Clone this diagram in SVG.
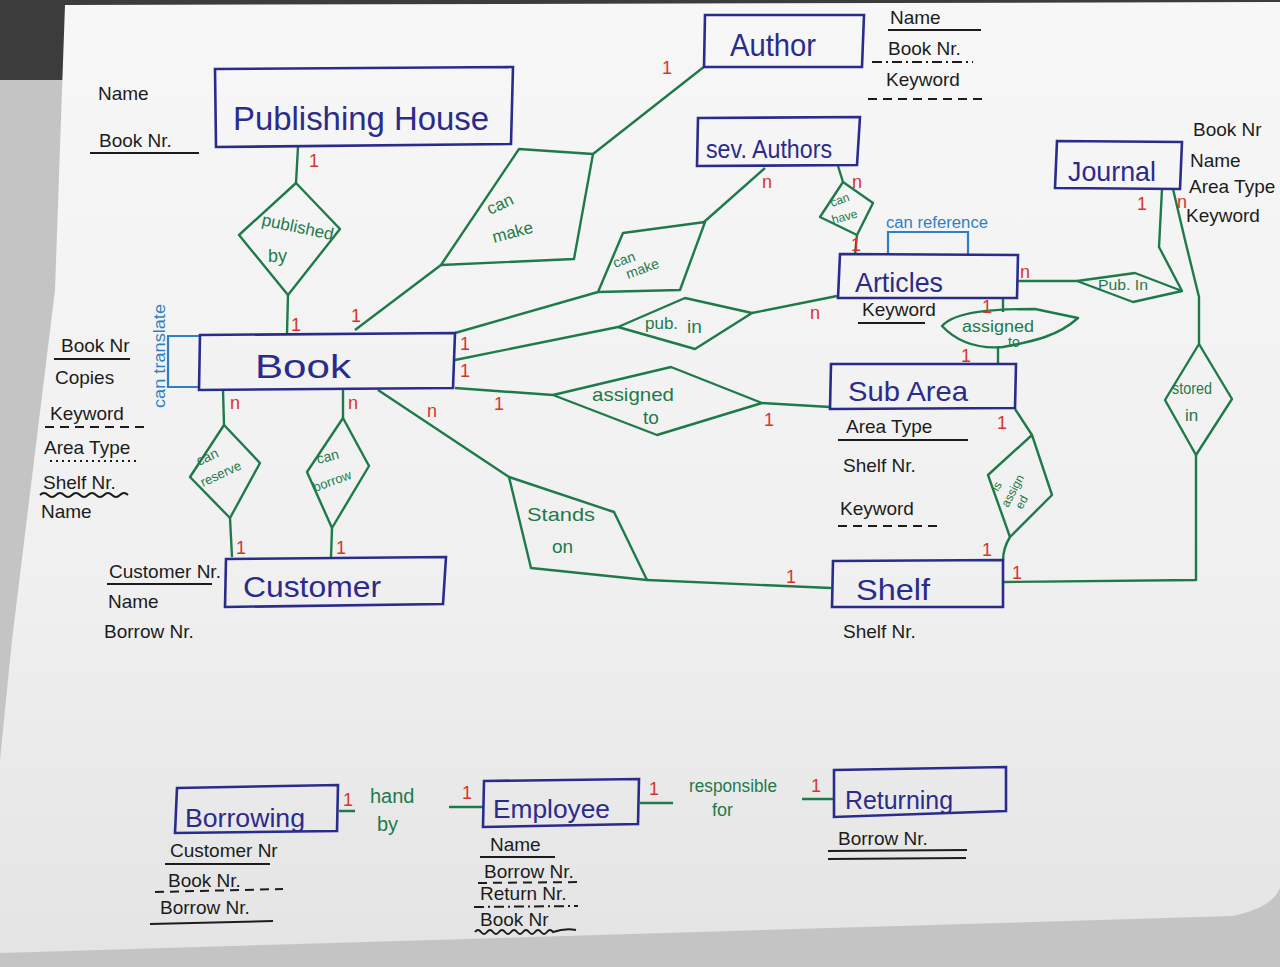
<svg xmlns="http://www.w3.org/2000/svg" width="1280" height="967" viewBox="0 0 1280 967">
<defs>
<linearGradient id="paper" x1="0" y1="0" x2="0" y2="1">
<stop offset="0" stop-color="#f7f7f7"/>
<stop offset="0.6" stop-color="#f0f0f0"/>
<stop offset="1" stop-color="#e4e4e4"/>
</linearGradient>
<style>
.ent{fill:none;stroke:#2b2b8c;stroke-width:2.6}
.et{font-family:"Liberation Sans",sans-serif;fill:#2b2b8c}
.rel{fill:none;stroke:#1f7a4a;stroke-width:2.4;stroke-linejoin:round}
.rt{font-family:"Liberation Sans",sans-serif;fill:#1f7a4a}
.card{font-family:"Liberation Sans",sans-serif;font-size:18px;fill:#d7352b}
.att{font-family:"Liberation Sans",sans-serif;font-size:19px;fill:#1c1c1c}
.ul{stroke:#1c1c1c;stroke-width:2;fill:none}
.dash{stroke:#1c1c1c;stroke-width:2;fill:none;stroke-dasharray:9 6}
.dd{stroke:#1c1c1c;stroke-width:2;fill:none;stroke-dasharray:10 4 2 4}
.dot{stroke:#1c1c1c;stroke-width:2;fill:none;stroke-dasharray:2 4}
.self{fill:none;stroke:#2f7fc4;stroke-width:2.2}
.st{font-family:"Liberation Sans",sans-serif;fill:#2f7fc4}
</style>
</defs>
<rect x="0" y="0" width="1280" height="967" fill="#c4c4c4"/>
<rect x="0" y="0" width="1280" height="8" fill="#3c3c3c"/>
<rect x="0" y="0" width="66" height="80" fill="#3c3c3c"/>
<path d="M65,5 L1280,2 L1280,888 Q1272,908 1232,916 L0,953 L0,760 L12,640 L55,290 Z" fill="url(#paper)"/>

<g id="connectors">
<path class="rel" d="M298,147 L296,183 M288,295 L287,333"/>
<path class="rel" d="M355,330 L441,265 M593,154 L705,66"/>
<path class="rel" d="M765,168 L704,222 M598,292 L455,333"/>
<path class="rel" d="M838,166 L843,182 M857,235 L855,255"/>
<path class="rel" d="M455,360 L618,327 M752,313 L837,296"/>
<path class="rel" d="M455,388 L553,395 M762,403 L830,407"/>
<path class="rel" d="M378,390 L509,477 M647,580 L831,588"/>
<path class="rel" d="M1003,298 L1003,312 M998,347 L998,364"/>
<path class="rel" d="M1017,281 L1077,281 M1182,291 L1159,247 L1162,189"/>
<path class="rel" d="M1173,189 L1185,240 L1199,297 L1199,344 M1196,455 L1196,580 L1003,582"/>
<path class="rel" d="M1015,409 L1032,435 M1010,537 Q1003,548 1003,561"/>
<path class="rel" d="M223,390 L224,425 M230,518 L232,557"/>
<path class="rel" d="M343,390 L343,418 M332,528 L331,557"/>
<path class="rel" d="M339,811 L355,811 M449,807 L483,807 M640,803 L673,803 M802,799 L833,799"/>
</g>

<g id="rel-published-by">
<path class="rel" d="M296,183 L340,229 L288,295 L239,235 Z"/>
<text class="rt" font-size="17" transform="translate(261,225) rotate(12)">published</text>
<text class="rt" font-size="18" x="268" y="262">by</text>
</g>
<g id="rel-can-make-author">
<path class="rel" d="M519,149 L593,154 L574,259 L441,265 Z"/>
<text class="rt" font-size="17" transform="translate(490,215) rotate(-25)">can</text>
<text class="rt" font-size="17" transform="translate(494,243) rotate(-15)">make</text>
</g>
<g id="rel-can-make-sev">
<path class="rel" d="M623,233 L705,222 L680,290 L598,292 Z"/>
<text class="rt" font-size="14" transform="translate(615,268) rotate(-20)">can</text>
<text class="rt" font-size="14" transform="translate(628,279) rotate(-20)">make</text>
</g>
<g id="rel-can-have">
<path class="rel" d="M843,182 L873,203 L857,235 L820,217 Z"/>
<text class="rt" font-size="12" transform="translate(832,207) rotate(-20)">can</text>
<text class="rt" font-size="12" transform="translate(833,224) rotate(-15)">have</text>
</g>
<g id="rel-can-reference">
<path class="self" d="M888,255 L888,232 L968,232 L968,255"/>
<text class="st" font-size="16" x="886" y="228" textLength="102" lengthAdjust="spacingAndGlyphs">can reference</text>
</g>
<g id="rel-pub-in">
<path class="rel" d="M618,327 L685,298 L752,313 L695,349 Z"/>
<text class="rt" font-size="17" x="645" y="329">pub.</text>
<text class="rt" font-size="19" x="687" y="333">in</text>
</g>
<g id="rel-assigned-to">
<path class="rel" d="M553,395 L671,367 L762,403 L657,435 Z"/>
<text class="rt" font-size="19" x="592" y="401" textLength="82" lengthAdjust="spacingAndGlyphs">assigned</text>
<text class="rt" font-size="19" x="643" y="424">to</text>
</g>
<g id="rel-stands-on">
<path class="rel" d="M509,477 L614,512 L647,580 L531,568 Z"/>
<text class="rt" font-size="19" x="527" y="521" textLength="68" lengthAdjust="spacingAndGlyphs">Stands</text>
<text class="rt" font-size="19" x="552" y="553">on</text>
</g>
<g id="rel-assigned-to-2">
<path class="rel" d="M942,326 C955,311 995,309 1035,309 L1078,318 C1058,336 1035,341 1003,347 C978,349 958,343 942,326 Z"/>
<text class="rt" font-size="16" x="962" y="332" textLength="72" lengthAdjust="spacingAndGlyphs">assigned</text>
<text class="rt" font-size="14" x="1008" y="347">to</text>
</g>
<g id="rel-pub-in-2">
<path class="rel" d="M1077,281 L1135,273 L1182,291 L1133,302 Z"/>
<text class="rt" font-size="15" x="1098" y="290" textLength="50" lengthAdjust="spacingAndGlyphs">Pub. In</text>
</g>
<g id="rel-stored-in">
<path class="rel" d="M1199,344 L1232,399 L1196,455 L1165,400 Z"/>
<text class="rt" font-size="16" x="1172" y="394" textLength="40" lengthAdjust="spacingAndGlyphs">stored</text>
<text class="rt" font-size="17" x="1185" y="421">in</text>
</g>
<g id="rel-is-assigned">
<path class="rel" d="M1032,435 L1052,495 L1010,537 L988,475 Z"/>
<text class="rt" font-size="12" transform="translate(998,492) rotate(-60)">is</text>
<text class="rt" font-size="12" transform="translate(1008,508) rotate(-62)">assign</text>
<text class="rt" font-size="12" transform="translate(1022,510) rotate(-62)">ed</text>
</g>
<g id="rel-can-reserve">
<path class="rel" d="M224,425 L260,463 L230,518 L190,477 Z"/>
<text class="rt" font-size="14" transform="translate(199,466) rotate(-25)">can</text>
<text class="rt" font-size="13" transform="translate(203,487) rotate(-25)">reserve</text>
</g>
<g id="rel-can-borrow">
<path class="rel" d="M343,418 L369,466 L332,528 L307,472 Z"/>
<text class="rt" font-size="14" transform="translate(318,464) rotate(-15)">can</text>
<text class="rt" font-size="13" transform="translate(315,492) rotate(-20)">borrow</text>
</g>
<g id="rel-can-translate">
<path class="self" d="M200,336 L168,336 L168,387 L200,387"/>
<text class="st" font-size="17" transform="translate(165,408) rotate(-90)" textLength="104" lengthAdjust="spacingAndGlyphs">can translate</text>
</g>
<g id="rel-hand-by">
<text class="rt" font-size="20" x="370" y="803">hand</text>
<text class="rt" font-size="20" x="377" y="831">by</text>
</g>
<g id="rel-responsible-for">
<text class="rt" font-size="18" x="689" y="792" textLength="88" lengthAdjust="spacingAndGlyphs">responsible</text>
<text class="rt" font-size="18" x="712" y="816">for</text>
</g>

<g id="cardinalities">
<text class="card" x="309" y="167">1</text>
<text class="card" x="291" y="331">1</text>
<text class="card" x="351" y="322">1</text>
<text class="card" x="662" y="74">1</text>
<text class="card" x="762" y="188">n</text>
<text class="card" x="852" y="188">n</text>
<text class="card" x="851" y="251">1</text>
<text class="card" x="1020" y="278">n</text>
<text class="card" x="1137" y="210">1</text>
<text class="card" x="1177" y="208" font-size="16">n</text>
<text class="card" x="982" y="313">1</text>
<text class="card" x="961" y="362">1</text>
<text class="card" x="460" y="350">1</text>
<text class="card" x="460" y="377">1</text>
<text class="card" x="810" y="319">n</text>
<text class="card" x="494" y="410">1</text>
<text class="card" x="764" y="426">1</text>
<text class="card" x="997" y="429">1</text>
<text class="card" x="982" y="556">1</text>
<text class="card" x="1012" y="579">1</text>
<text class="card" x="786" y="583">1</text>
<text class="card" x="427" y="417">n</text>
<text class="card" x="230" y="409">n</text>
<text class="card" x="348" y="409">n</text>
<text class="card" x="236" y="554">1</text>
<text class="card" x="336" y="554">1</text>
<text class="card" x="343" y="806">1</text>
<text class="card" x="462" y="799">1</text>
<text class="card" x="649" y="795">1</text>
<text class="card" x="811" y="792">1</text>
</g>

<g id="publishing-house">
<path class="ent" d="M215,69 L513,67 L511,144 L216,147 Z"/>
<text class="et" font-size="34" x="233" y="130" textLength="256" lengthAdjust="spacingAndGlyphs">Publishing House</text>
<text class="att" font-size="21" x="98" y="100">Name</text>
<text class="att" font-size="21" x="99" y="147">Book Nr.</text>
<path class="ul" d="M90,153 L199,153"/>
</g>
<g id="author">
<path class="ent" d="M705,15 L864,15 L862,67 L704,67 Z"/>
<text class="et" font-size="32" x="730" y="56" textLength="86" lengthAdjust="spacingAndGlyphs">Author</text>
<text class="att" font-size="17" x="890" y="24">Name</text>
<path class="ul" d="M888,30 L981,30"/>
<text class="att" font-size="17" x="888" y="55">Book Nr.</text>
<path class="dd" d="M872,62 L973,62"/>
<text class="att" font-size="19" x="886" y="86">Keyword</text>
<path class="dash" d="M868,99 L982,99"/>
</g>
<g id="sev-authors">
<path class="ent" d="M698,118 L860,117 L857,165 L697,166 Z"/>
<text class="et" font-size="26" x="706" y="158" textLength="126" lengthAdjust="spacingAndGlyphs">sev. Authors</text>
</g>
<g id="journal">
<path class="ent" d="M1057,141 L1182,142 L1180,189 L1055,188 Z"/>
<text class="et" font-size="28" x="1068" y="181" textLength="88" lengthAdjust="spacingAndGlyphs">Journal</text>
<text class="att" font-size="16" x="1193" y="136">Book Nr</text>
<text class="att" font-size="16" x="1190" y="167">Name</text>
<text class="att" font-size="16" x="1189" y="193">Area Type</text>
<text class="att" font-size="16" x="1186" y="222">Keyword</text>
</g>
<g id="articles">
<path class="ent" d="M840,254 L1018,255 L1017,298 L838,298 Z"/>
<text class="et" font-size="28" x="855" y="292" textLength="88" lengthAdjust="spacingAndGlyphs">Articles</text>
<text class="att" font-size="17" x="862" y="316">Keyword</text>
<path class="ul" d="M858,323 L925,323"/>
</g>
<g id="sub-area">
<path class="ent" d="M831,364 L1016,364 L1015,408 L830,409 Z"/>
<text class="et" font-size="28" x="848" y="401" textLength="120" lengthAdjust="spacingAndGlyphs">Sub Area</text>
<text class="att" font-size="18" x="846" y="433">Area Type</text>
<path class="ul" d="M838,440 L968,440"/>
<text class="att" font-size="18" x="843" y="472">Shelf Nr.</text>
<text class="att" font-size="19" x="840" y="515">Keyword</text>
<path class="dash" d="M838,526 L943,526"/>
</g>
<g id="shelf">
<path class="ent" d="M833,561 L1003,560 L1003,607 L832,607 Z"/>
<text class="et" font-size="30" x="856" y="600" textLength="74" lengthAdjust="spacingAndGlyphs">Shelf</text>
<text class="att" font-size="19" x="843" y="638">Shelf Nr.</text>
</g>
<g id="book">
<path class="ent" d="M200,335 L455,333 L453,388 L199,390 Z"/>
<text class="et" font-size="34" x="255" y="378" textLength="96" lengthAdjust="spacingAndGlyphs">Book</text>
<text class="att" font-size="17" x="61" y="352">Book Nr</text>
<path class="ul" d="M54,359 L130,359"/>
<text class="att" font-size="18" x="55" y="384">Copies</text>
<text class="att" font-size="19" x="50" y="420">Keyword</text>
<path class="dash" d="M45,427 L146,427"/>
<text class="att" font-size="19" x="44" y="454">Area Type</text>
<path class="dot" d="M50,461 L136,461"/>
<text class="att" font-size="19" x="43" y="489">Shelf Nr.</text>
<path class="ul" d="M40,495 Q44,491 48,495 T56,495 T64,495 T72,495 T80,495 T88,495 T96,495 T104,495 T112,495 T120,495 T128,495"/>
<text class="att" font-size="19" x="41" y="518">Name</text>
</g>
<g id="customer">
<path class="ent" d="M226,559 L446,557 L443,604 L225,607 Z"/>
<text class="et" font-size="30" x="243" y="597" textLength="138" lengthAdjust="spacingAndGlyphs">Customer</text>
<text class="att" font-size="17" x="109" y="578">Customer Nr.</text>
<path class="ul" d="M107,584 L212,584"/>
<text class="att" font-size="17" x="108" y="608">Name</text>
<text class="att" font-size="17" x="104" y="638">Borrow Nr.</text>
</g>
<g id="borrowing">
<path class="ent" d="M177,788 L338,785 L337,831 L175,833 Z"/>
<text class="et" font-size="26" x="185" y="827" textLength="120" lengthAdjust="spacingAndGlyphs">Borrowing</text>
<text class="att" font-size="17" x="170" y="857">Customer Nr</text>
<path class="ul" d="M165,864 L270,864"/>
<text class="att" font-size="17" x="168" y="887">Book Nr.</text>
<path class="dash" d="M155,892 L283,889"/>
<text class="att" font-size="17" x="160" y="914">Borrow Nr.</text>
<path class="ul" d="M150,924 L273,921"/>
</g>
<g id="employee">
<path class="ent" d="M484,781 L639,779 L638,824 L483,827 Z"/>
<text class="et" font-size="26" x="493" y="818" textLength="117" lengthAdjust="spacingAndGlyphs">Employee</text>
<text class="att" font-size="17" x="490" y="851">Name</text>
<path class="ul" d="M480,857 L555,857"/>
<text class="att" font-size="16" x="484" y="878">Borrow Nr.</text>
<path class="dash" d="M478,883 L581,882"/>
<text class="att" font-size="16" x="480" y="900">Return Nr.</text>
<path class="dd" d="M474,907 L578,906"/>
<text class="att" font-size="16" x="480" y="926">Book Nr</text>
<path class="ul" d="M475,932 Q478,928 481,932 T487,932 T493,932 T499,932 T505,932 T511,932 T517,932 T523,932 T529,932 T535,932 T541,932 T547,932 T553,932 Q565,928 576,930"/>
</g>
<g id="returning">
<path class="ent" d="M834,770 L1006,767 L1006,811 L834,817 Z"/>
<text class="et" font-size="26" x="845" y="809" textLength="108" lengthAdjust="spacingAndGlyphs">Returning</text>
<text class="att" font-size="17" x="838" y="845">Borrow Nr.</text>
<path class="ul" d="M828,851 L967,850 M828,859 L966,858"/>
</g>
</svg>
